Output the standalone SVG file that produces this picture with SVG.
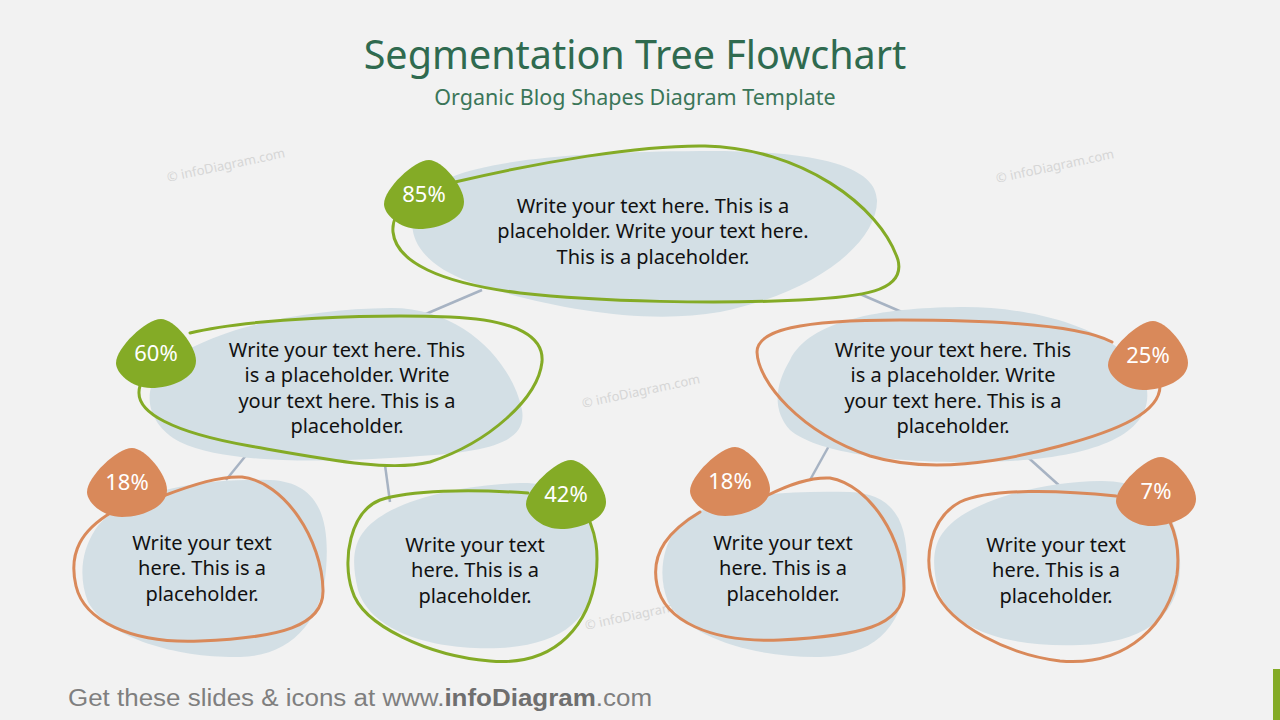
<svg xmlns="http://www.w3.org/2000/svg" width="1280" height="720" viewBox="0 0 1280 720">
<defs>
<style>
.blob{fill:#d3dfe5}
.og{fill:none;stroke:#84ab26;stroke-width:3;stroke-linecap:round}
.oo{fill:none;stroke:#d9895a;stroke-width:3;stroke-linecap:round}
.bg{fill:#84ab26}
.bo{fill:#d9895a}
.t{font-family:"Noto Sans","Open Sans",sans-serif;font-size:20px;fill:#111;text-anchor:middle}
.bt{font-family:"Noto Sans","Open Sans",sans-serif;font-size:22px;fill:#fff;text-anchor:middle}
.wm{font-family:"Noto Sans","Open Sans",sans-serif;font-size:13px;fill:#d6d6d6}
.con{stroke:#a7b3c3;stroke-width:2.5;fill:none}
</style>
<path id="badge" d="M 5,-34 C 18,-34 40,-8 40,8 C 40,25 15,35 -5,35 C -25,35 -40,20 -40,10 C -40,-5 -10,-34 5,-34 Z"/>
</defs>
<rect width="1280" height="720" fill="#f2f2f2"/>
<g id="title">
<text x="635" y="69" font-family="'Noto Sans','Open Sans',sans-serif" font-size="39.5" fill="#2f6a4f" text-anchor="middle">Segmentation Tree Flowchart</text>
<text x="635" y="105" font-family="'Noto Sans','Open Sans',sans-serif" font-size="21.5" fill="#3b7659" text-anchor="middle">Organic Blog Shapes Diagram Template</text>
</g>
<g id="watermarks">
<text class="wm" x="168" y="182" transform="rotate(-12 168 182)">© infoDiagram.com</text>
<text class="wm" x="997" y="183" transform="rotate(-12 997 183)">© infoDiagram.com</text>
<text class="wm" x="583" y="408" transform="rotate(-12 583 408)">© infoDiagram.com</text>
<text class="wm" x="586" y="630" transform="rotate(-12 586 630)">© infoDiagram.com</text>
</g>
<g id="connectors">
<line class="con" x1="482" y1="290" x2="400" y2="325"/>
<line class="con" x1="860" y1="294" x2="925" y2="322"/>
<line class="con" x1="252" y1="448" x2="226" y2="480"/>
<line class="con" x1="385" y1="465" x2="390" y2="502"/>
<line class="con" x1="830" y1="444" x2="810" y2="480"/>
<line class="con" x1="1022" y1="452" x2="1072" y2="497"/>
</g>
<g id="node-top">
<path class="blob" d="M 420,200 C 440,162 560,152 700,151 C 800,150 876,162 877,200 C 878,240 820,292 720,312 C 640,326 540,306 470,282 C 420,264 400,232 420,200 Z"/>
<path class="og" d="M 455,182 C 540,162 640,145 705,146 C 800,148 880,205 898,260 C 906,292 860,297 800,300 C 720,304 600,302 520,293 C 440,283 396,262 393,232 C 392,220 398,212 404,208"/>
<use href="#badge" class="bg" transform="translate(424,194)"/>
<text class="bt" x="424" y="202">85%</text>
<text class="t"><tspan x="653" y="213">Write your text here. This is a</tspan><tspan x="653" y="238">placeholder. Write your text here.</tspan><tspan x="653" y="264">This is a placeholder.</tspan></text>
</g>
<g id="node-left">
<path class="blob" d="M 160,370 C 200,330 300,309 390,308 C 460,307 512,360 522,410 C 528,445 480,452 420,456 C 340,462 230,466 180,442 C 150,426 140,395 160,370 Z"/>
<path class="og" d="M 190,333 C 250,318 380,314 450,317 C 520,320 544,338 542,362 C 538,398 490,442 430,462 C 390,472 330,460 250,446 C 170,432 138,412 139,392 C 139,386 141,383 143,380"/>
<use href="#badge" class="bg" transform="translate(156,353)"/>
<text class="bt" x="156" y="361">60%</text>
<text class="t"><tspan x="347" y="357">Write your text here. This</tspan><tspan x="347" y="382">is a placeholder. Write</tspan><tspan x="347" y="408">your text here. This is a</tspan><tspan x="347" y="433">placeholder.</tspan></text>
</g>
<g id="node-right">
<path class="blob" d="M 790,360 C 810,320 880,308 960,307 C 1050,306 1140,340 1147,390 C 1152,432 1100,456 1010,461 C 920,466 820,456 790,430 C 772,410 775,385 790,360 Z"/>
<path class="oo" d="M 1112,342 C 1080,325 1000,320 900,320 C 800,320 757,330 757,352 C 758,382 800,432 870,456 C 930,474 1000,462 1060,446 C 1120,430 1160,412 1160,386"/>
<use href="#badge" class="bo" transform="translate(1148,355)"/>
<text class="bt" x="1148" y="363">25%</text>
<text class="t"><tspan x="953" y="357">Write your text here. This</tspan><tspan x="953" y="382">is a placeholder. Write</tspan><tspan x="953" y="408">your text here. This is a</tspan><tspan x="953" y="433">placeholder.</tspan></text>
</g>
<g id="node-ll">
<path class="blob" d="M 95,530 C 120,492 200,478 270,480 C 320,482 330,520 326,570 C 322,622 290,656 240,657 C 180,658 110,640 88,602 C 78,576 82,550 95,530 Z"/>
<path class="oo" d="M 163,496 C 195,484 220,476 242,477 C 285,482 322,540 323,590 C 324,626 280,638 200,641 C 130,644 84,620 76,586 C 68,552 82,530 112,512"/>
<use href="#badge" class="bo" transform="translate(127,482)"/>
<text class="bt" x="127" y="490">18%</text>
<text class="t"><tspan x="202" y="550">Write your text</tspan><tspan x="202" y="575">here. This is a</tspan><tspan x="202" y="601">placeholder.</tspan></text>
</g>
<g id="node-lr">
<path class="blob" d="M 365,530 C 390,500 460,485 520,483 C 580,482 598,520 596,570 C 594,620 560,645 500,648 C 430,651 370,630 358,590 C 352,565 352,545 365,530 Z"/>
<path class="og" d="M 528,493 C 470,489 410,490 380,500 C 350,512 342,560 352,590 C 362,626 430,656 490,661 C 560,667 590,620 596,575 C 599,550 595,535 590,522"/>
<use href="#badge" class="bg" transform="translate(566,494)"/>
<text class="bt" x="566" y="502">42%</text>
<text class="t"><tspan x="475" y="552">Write your text</tspan><tspan x="475" y="577">here. This is a</tspan><tspan x="475" y="603">placeholder.</tspan></text>
</g>
<g id="node-rl">
<path class="blob" d="M 675,530 C 700,496 780,490 850,492 C 900,494 910,530 906,580 C 902,630 870,656 820,657 C 760,658 690,640 668,602 C 658,576 662,550 675,530 Z"/>
<path class="oo" d="M 766,496 C 790,484 810,477 830,478 C 870,485 905,540 904,590 C 903,626 860,636 780,640 C 710,643 664,620 657,585 C 650,552 670,530 700,512"/>
<use href="#badge" class="bo" transform="translate(730,481)"/>
<text class="bt" x="730" y="489">18%</text>
<text class="t"><tspan x="783" y="550">Write your text</tspan><tspan x="783" y="575">here. This is a</tspan><tspan x="783" y="601">placeholder.</tspan></text>
</g>
<g id="node-rr">
<path class="blob" d="M 945,530 C 970,500 1040,482 1100,481 C 1160,480 1182,520 1180,570 C 1178,620 1140,643 1080,645 C 1010,648 950,630 938,590 C 932,565 932,545 945,530 Z"/>
<path class="oo" d="M 1116,496 C 1060,490 990,488 960,502 C 930,518 922,560 935,590 C 950,626 1010,655 1060,661 C 1130,667 1170,620 1177,575 C 1180,550 1176,535 1170,522"/>
<use href="#badge" class="bo" transform="translate(1156,491)"/>
<text class="bt" x="1156" y="499">7%</text>
<text class="t"><tspan x="1056" y="552">Write your text</tspan><tspan x="1056" y="577">here. This is a</tspan><tspan x="1056" y="603">placeholder.</tspan></text>
</g>
<g id="footer">
<text x="68" y="706" font-family="'Liberation Sans',sans-serif" font-size="23" fill="#7f7f7f" textLength="584" lengthAdjust="spacingAndGlyphs">Get these slides &amp; icons at www.<tspan font-weight="bold" fill="#6f6f6f">infoDiagram</tspan>.com</text>
<rect x="1273" y="669" width="7" height="51" fill="#84ab26"/>
</g>
</svg>
